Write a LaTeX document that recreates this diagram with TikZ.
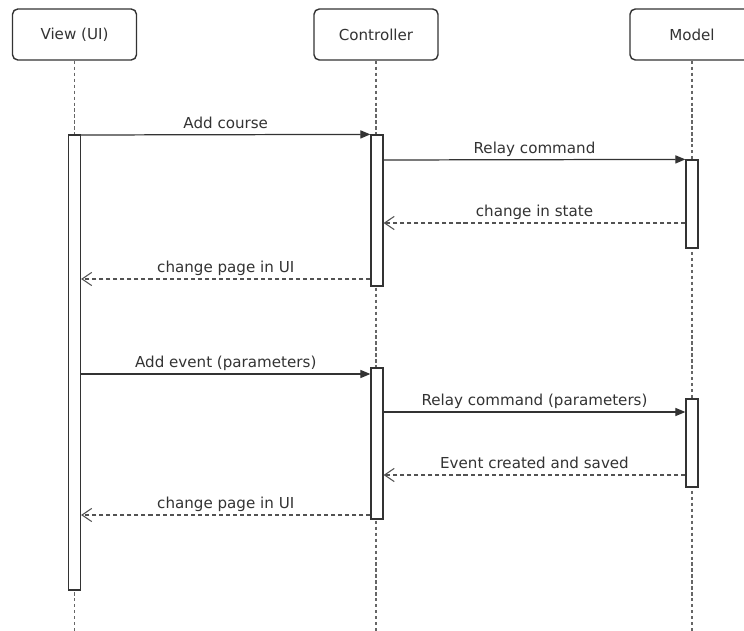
\documentclass[tikz,border=0pt]{standalone}
\usepackage{fontspec}
\setmainfont{DejaVu Sans}
\usepackage{tikz}
\usetikzlibrary{arrows.meta}

\definecolor{ink}{HTML}{333333}

\begin{document}
\begin{tikzpicture}[
    x=0.02cm, y=-0.02cm,
    font=\fontsize{8.6}{10}\selectfont, text=ink,
    actor/.style={draw=ink, line width=0.8pt, rounded corners=3pt, minimum width=2.48cm, minimum height=1.02cm, fill=white},
    life/.style={draw=ink!75, line width=0.75pt, dash pattern=on 1.8pt off 1.6pt},
    bar/.style={draw=ink, line width=0.7pt, fill=white, minimum width=0.24cm, inner sep=0pt},
    msg/.style={draw=ink, line width=0.7pt, -{Triangle[length=5.7pt, width=4.6pt]}},
    ret/.style={draw=ink!85, line width=0.6pt, dash pattern=on 2.3pt off 1.7pt, -{Straight Barb[length=5.5pt, width=7.5pt]}},
    lbl/.style={above, inner sep=3.2pt, text depth=0pt}
]
\useasboundingbox[fill=white] (0,0) rectangle (744,631);

% lifelines heads
\node[actor] (view) at (74.5,34.5) {View (UI)};
\node[actor] (ctrl) at (376,34.5) {Controller};
\node[actor] (model) at (692,34.5) {Model};

\coordinate (viewend) at (view.south |- 0,631);
\coordinate (ctrlend) at (ctrl.south |- 0,631);
\coordinate (modelend) at (model.south |- 0,631);
\draw[life] (view.south) -- (viewend);
\draw[life] (ctrl.south) -- (ctrlend);
\draw[life] (model.south) -- (modelend);

% activations
\node[bar, minimum height=9.1cm] (vbar) at (74.5,362.5) {};
\node[bar, minimum height=3.02cm] (cbarA) at (377,210.5) {};
\node[bar, minimum height=1.76cm] (mbarA) at (692,204) {};
\node[bar, minimum height=3.02cm] (cbarB) at (377,443.5) {};
\node[bar, minimum height=1.76cm] (mbarB) at (692,443) {};

% first round
\draw[msg] (vbar.east |- 0,135) -- node[lbl] {Add course} (cbarA.north west);
\draw[msg] (cbarA.east |- 0,160) -- node[lbl] {Relay command} (mbarA.north west);
\draw[ret] (mbarA.west |- 0,223) -- node[lbl] {change in state} (cbarA.east |- 0,223);
\draw[ret] (cbarA.west |- 0,279) -- node[lbl] {change page in UI} (vbar.east |- 0,279);

% second round
\draw[msg] (vbar.east |- 0,374) -- node[lbl] {Add event (parameters)} (cbarB.west |- 0,374);
\draw[msg] (cbarB.east |- 0,412) -- node[lbl] {Relay command (parameters)} (mbarB.west |- 0,412);
\draw[ret] (mbarB.west |- 0,475) -- node[lbl] {Event created and saved} (cbarB.east |- 0,475);
\draw[ret] (cbarB.west |- 0,515) -- node[lbl] {change page in UI} (vbar.east |- 0,515);
\end{tikzpicture}
\end{document}
